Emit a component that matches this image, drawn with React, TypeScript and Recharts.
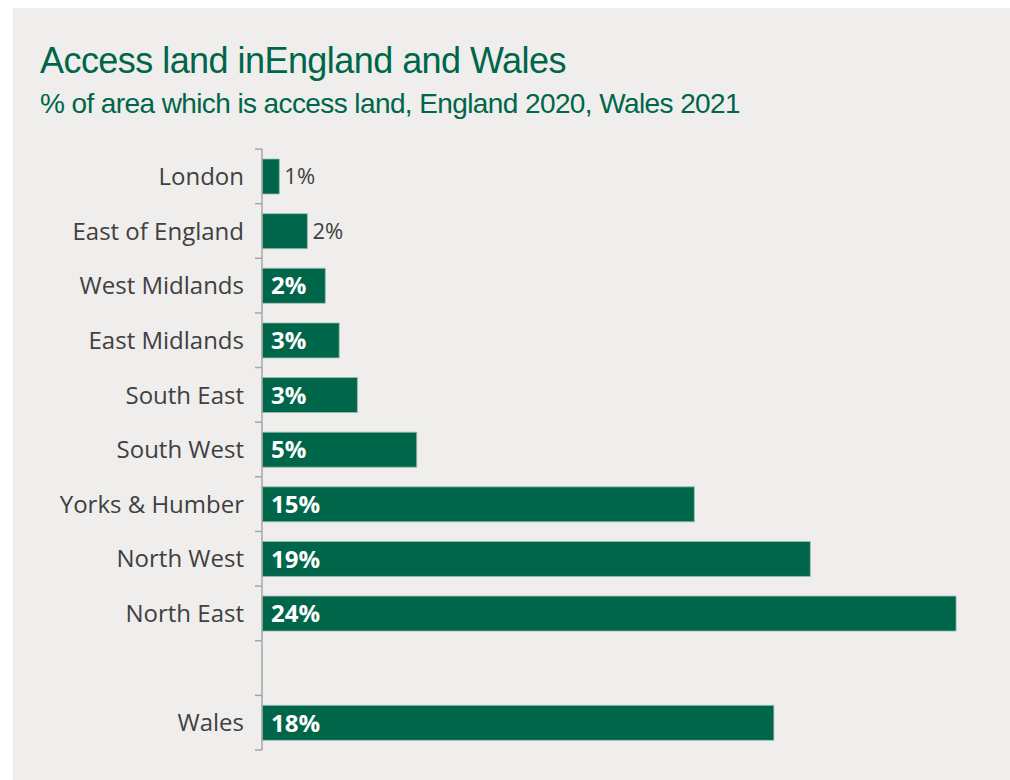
import React from "react"
import { BarChart, Bar, XAxis, YAxis, LabelList } from "recharts"

const categories = [
  "London",
  "East of England",
  "West Midlands",
  "East Midlands",
  "South East",
  "South West",
  "Yorks & Humber",
  "North West",
  "North East",
  "",
  "Wales",
]

// % of area which is access land (England 2020, Wales 2021)
const accessShare: (number | null)[] = [0.6, 1.57, 2.19, 2.67, 3.3, 5.35, 14.95, 18.96, 24.0, null, 17.7]

const title = "Access land inEngland and Wales"
const subtitle = "% of area which is access land, England 2020, Wales 2021"

const GREEN = "#00664A"
const PANEL_BG = "#EFEEEC"
const AXIS_GREY = "#A6A6A6"
const TEXT_GREY = "#404040"

const W = 997
const H = 772
const margin = { top: 141, right: 25, bottom: 30, left: 0 }
const band = (H - margin.top - margin.bottom) / categories.length

const data = categories.map((name, i) => ({ name, value: accessShare[i] }))

function RegionTick(props: any) {
  const { x, y, payload, index } = props
  const ax = x + 8
  return (
    <g>
      <line x1={ax - 7} x2={ax} y1={y - band / 2} y2={y - band / 2} stroke={AXIS_GREY} strokeWidth={1.5} />
      {index === categories.length - 1 && (
        <line x1={ax - 7} x2={ax} y1={y + band / 2} y2={y + band / 2} stroke={AXIS_GREY} strokeWidth={1.5} />
      )}
      <text
        x={x - 10}
        y={y}
        dy="0.36em"
        textAnchor="end"
        fill={TEXT_GREY}
        fontSize={24}
        fontFamily="'Open Sans', sans-serif"
      >
        {payload.value}
      </text>
    </g>
  )
}

function ValueLabel(props: any) {
  const { x, y, width, height, value } = props
  if (value == null) return null
  const txt = `${Math.round(value)}%`
  if (value < 2) {
    return (
      <text
        x={x + width + 5}
        y={y + height / 2}
        dy="0.36em"
        fill={TEXT_GREY}
        fontSize={22}
        fontFamily="'Open Sans', sans-serif"
      >
        {txt}
      </text>
    )
  }
  return (
    <text
      x={x + 9}
      y={y + height / 2}
      dy="0.36em"
      fill="#ffffff"
      fontSize={24}
      fontWeight={700}
      fontFamily="'Open Sans', sans-serif"
    >
      {txt}
    </text>
  )
}

export default function App() {
  return (
    <div
      style={{
        position: "absolute",
        left: 13,
        top: 8,
        width: W,
        height: H,
        background: PANEL_BG,
      }}
    >
      <svg width={W} height={130} style={{ position: "absolute", left: 0, top: 0 }}>
        <text x={27} y={65} fill={GREEN} fontSize={36} letterSpacing={-0.55} fontFamily="'Liberation Sans', Arial, sans-serif">
          {title}
        </text>
        <text x={27} y={105} fill={GREEN} fontSize={28} letterSpacing={-0.6} fontFamily="'Liberation Sans', Arial, sans-serif">
          {subtitle}
        </text>
      </svg>
      <div style={{ position: "absolute", left: 0, top: 0 }}>
        <BarChart width={W} height={H} data={data} layout="vertical" margin={margin} barCategoryGap={0}>
          <XAxis type="number" hide domain={[0, 25]} />
          <YAxis
            type="category"
            dataKey="name"
            width={249}
            interval={0}
            tickSize={6}
            tickMargin={2}
            tickLine={false}
            axisLine={{ stroke: AXIS_GREY, strokeWidth: 1.5 }}
            tick={<RegionTick />}
          />
          <Bar dataKey="value" fill={GREEN} stroke="#9DBFB2" strokeWidth={0.8} barSize={35} isAnimationActive={false}>
            <LabelList dataKey="value" content={<ValueLabel />} />
          </Bar>
        </BarChart>
      </div>
    </div>
  )
}
